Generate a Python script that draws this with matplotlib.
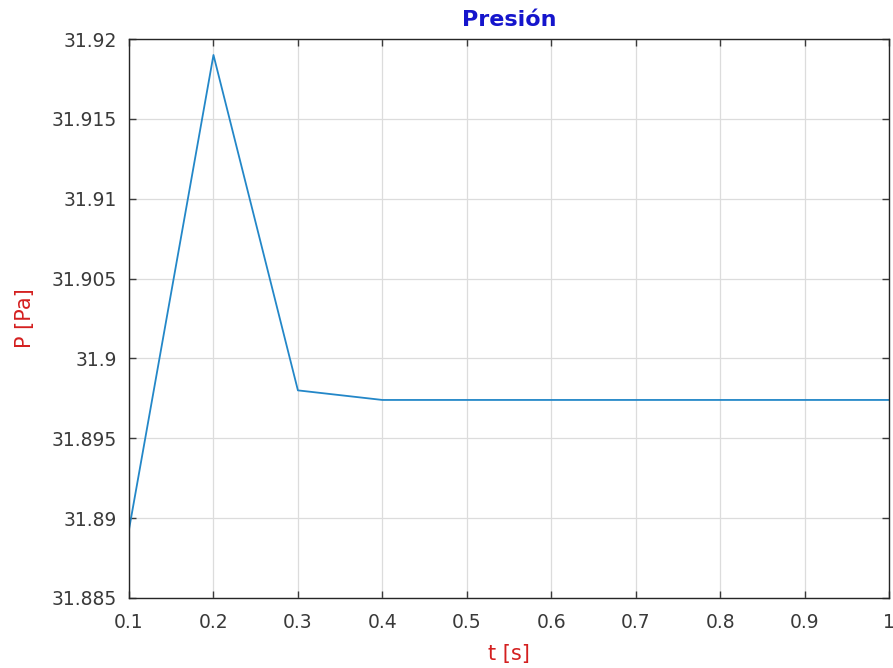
import matplotlib
matplotlib.use("Agg")
import matplotlib.pyplot as plt

# Pressure time series
t = [0.1, 0.2, 0.3, 0.4, 0.5, 0.6, 0.7, 0.8, 0.9, 1.0]
p = [31.8893, 31.919, 31.898, 31.8974, 31.8974, 31.8974, 31.8974, 31.8974, 31.8974, 31.8974]

x_ticks = [0.1, 0.2, 0.3, 0.4, 0.5, 0.6, 0.7, 0.8, 0.9, 1.0]
x_tick_labels = ["0.1", "0.2", "0.3", "0.4", "0.5", "0.6", "0.7", "0.8", "0.9", "1"]
y_ticks = [31.885, 31.89, 31.895, 31.9, 31.905, 31.91, 31.915, 31.92]
y_tick_labels = ["31.885", "31.89", "31.895", "31.9", "31.905", "31.91", "31.915", "31.92"]

plt.rcParams['font.family'] = ['DejaVu Sans']

fig = plt.figure(figsize=(8.93, 6.68), dpi=100)
ax = fig.add_axes([0.1445, 0.1048, 0.851, 0.8368])

ax.plot(t, p, color='#2387C8', linewidth=1.3)

ax.set_xlim(0.1, 1.0)
ax.set_ylim(31.885, 31.92)
ax.set_xticks(x_ticks)
ax.set_xticklabels(x_tick_labels)
ax.set_yticks(y_ticks)
ax.set_yticklabels(y_tick_labels)

ax.grid(True, color='#dcdcdc', linewidth=0.9)
ax.set_axisbelow(True)
ax.tick_params(direction='in', top=True, right=True, length=5, width=1,
               labelsize=13.5, colors='#3a3a3a')
ax.tick_params(axis='x', pad=11)
ax.tick_params(axis='y', pad=8.5)
for s in ax.spines.values():
    s.set_color('#262626')
    s.set_linewidth(1.0)

ax.set_title('Presión', color='#1515CC', fontweight='bold', fontsize=16,
             y=1.034, va='center', pad=0)
ax.set_xlabel('t [s]', color='#D42020', fontsize=15, va='center')
ax.xaxis.set_label_coords(0.5, -0.100)
ax.set_ylabel('P [Pa]', color='#D42020', fontsize=15, va='center')
ax.yaxis.set_label_coords(-0.137, 0.5)

fig.savefig('out.png', dpi=100)
